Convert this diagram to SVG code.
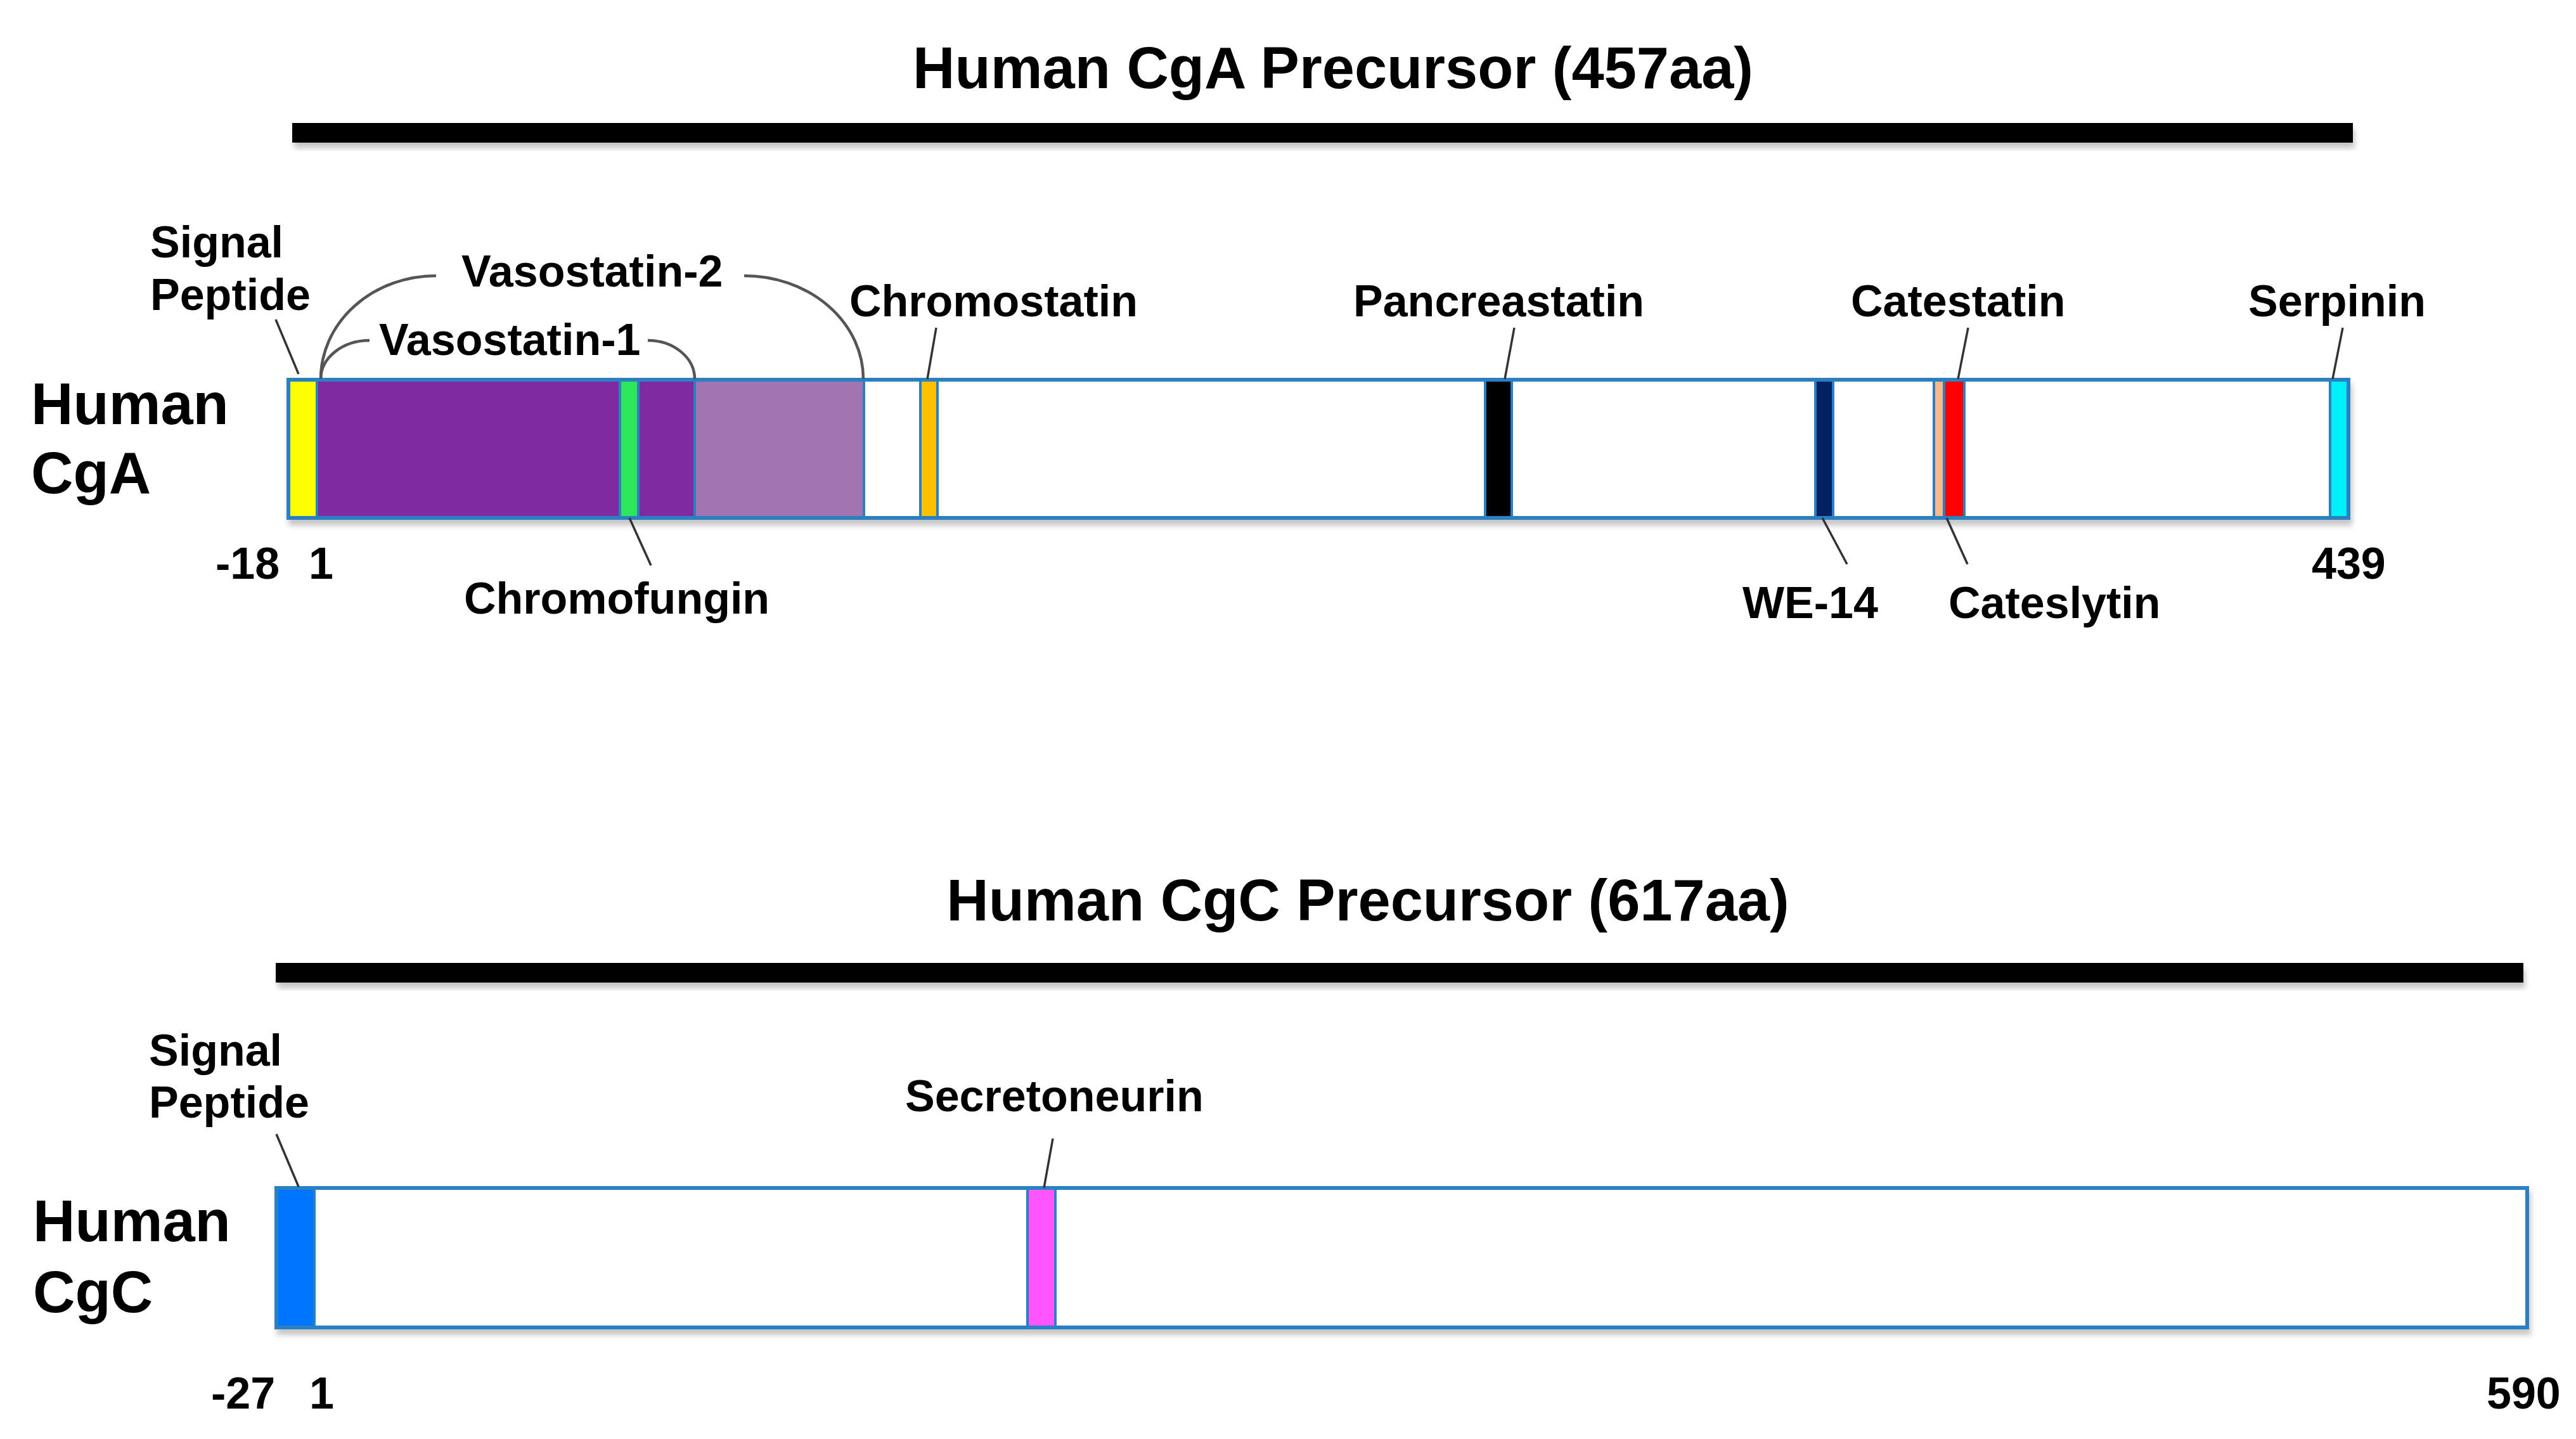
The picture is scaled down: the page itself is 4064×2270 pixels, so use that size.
<svg xmlns="http://www.w3.org/2000/svg" width="4064" height="2270" viewBox="0 0 4064 2270">
<defs>
<filter id="sh" x="-5%" y="-20%" width="110%" height="160%">
<feDropShadow dx="3" dy="9" stdDeviation="4" flood-color="#000" flood-opacity="0.22"/>
</filter>
<style>
text{font-family:"Liberation Sans",Arial,sans-serif;font-weight:bold;fill:#000}
.t{font-size:92px}
.l{font-size:70px}
.box{fill:none;stroke:#2a80c2;stroke-width:6}
.seg{stroke:#2a80c2;stroke-width:4}
.lead{fill:none;stroke:#333;stroke-width:3.5}
.brace{fill:none;stroke:#555;stroke-width:4.5}
.bar{fill:#000}
</style>
</defs>
<rect width="4064" height="2270" fill="#fff"/>

<g id="cga-title">
<text class="t" x="2103" y="139" text-anchor="middle">Human CgA Precursor (457aa)</text>
<rect class="bar" x="461" y="194" width="3251" height="31" filter="url(#sh)"/>
</g>

<g id="cga-label">
<text class="t" x="49" y="669">Human</text>
<text class="t" x="49" y="778">CgA</text>
</g>

<g id="cga-protein" filter="url(#sh)">
<rect x="455" y="599" width="3250" height="218" fill="#fff" stroke="none"/>
<rect class="seg" x="455" y="599" width="45" height="218" fill="#ffff00"/>
<rect class="seg" x="500" y="599" width="596" height="218" fill="#7f2aa0"/>
<rect class="seg" x="978" y="599" width="29" height="218" fill="#2ee65a"/>
<rect class="seg" x="1096" y="599" width="267" height="218" fill="#a275b0"/>
<rect class="seg" x="1452" y="599" width="27" height="218" fill="#ffc000"/>
<rect class="seg" x="2343" y="599" width="42" height="218" fill="#000"/>
<rect class="seg" x="2864" y="599" width="28" height="218" fill="#002060"/>
<rect class="seg" x="3051" y="599" width="16" height="218" fill="#f8b88a"/>
<rect class="seg" x="3067" y="599" width="32" height="218" fill="#ff0000"/>
<rect class="seg" x="3676" y="599" width="29" height="218" fill="#00f0f8"/>
<rect class="box" x="455" y="599" width="3250" height="218"/>
</g>

<g id="cga-labels">
<text class="l" x="237" y="406">Signal</text>
<text class="l" x="237" y="489">Peptide</text>
<text class="l" x="728" y="452">Vasostatin-2</text>
<text class="l" x="598" y="560">Vasostatin-1</text>
<text class="l" x="1340" y="499">Chromostatin</text>
<text class="l" x="2135" y="499">Pancreastatin</text>
<text class="l" x="2920" y="499">Catestatin</text>
<text class="l" x="3547" y="499">Serpinin</text>
<text class="l" x="732" y="968">Chromofungin</text>
<text class="l" x="2749" y="975">WE-14</text>
<text class="l" x="3074" y="975">Cateslytin</text>
<text class="l" x="340" y="913">-18</text>
<text class="l" x="487" y="913">1</text>
<text class="l" x="3647" y="913">439</text>
</g>

<g id="cgc-title">
<text class="t" x="2158" y="1452" text-anchor="middle">Human CgC Precursor (617aa)</text>
<rect class="bar" x="435" y="1519" width="3546" height="31" filter="url(#sh)"/>
</g>

<g id="cgc-label">
<text class="t" x="52" y="1958">Human</text>
<text class="t" x="52" y="2070">CgC</text>
</g>

<g id="cgc-protein" filter="url(#sh)">
<rect x="436" y="1874" width="3551" height="220" fill="#fff" stroke="none"/>
<rect class="seg" x="436" y="1874" width="60" height="220" fill="#0075ff"/>
<rect class="seg" x="1621" y="1874" width="44" height="220" fill="#ff55ff"/>
<rect class="box" x="436" y="1874" width="3551" height="220"/>
</g>

<g id="cgc-labels">
<text class="l" x="235" y="1681">Signal</text>
<text class="l" x="235" y="1763">Peptide</text>
<text class="l" x="1428" y="1753">Secretoneurin</text>
<text class="l" x="333" y="2222">-27</text>
<text class="l" x="488" y="2222">1</text>
<text class="l" x="3923" y="2222">590</text>
</g>

<g id="connectors">
<path class="lead" d="M435 504 L471 590"/>
<path class="lead" d="M1477 517 L1463 598"/>
<path class="lead" d="M2389 517 L2374 598"/>
<path class="lead" d="M3105 517 L3089 598"/>
<path class="lead" d="M3696 517 L3680 598"/>
<path class="lead" d="M993 817 L1027 892"/>
<path class="lead" d="M2875 817 L2914 890"/>
<path class="lead" d="M3071 817 L3104 890"/>
<path class="lead" d="M436 1789 L471 1872"/>
<path class="lead" d="M1661 1796 L1647 1874"/>
<path class="brace" d="M506 598 A182 163 0 0 1 688 435"/>
<path class="brace" d="M1174 435 A188 163 0 0 1 1362 598"/>
<path class="brace" d="M506 598 A77 61 0 0 1 583 537"/>
<path class="brace" d="M1022 537 A74 61 0 0 1 1096 598"/>
</g>
</svg>
